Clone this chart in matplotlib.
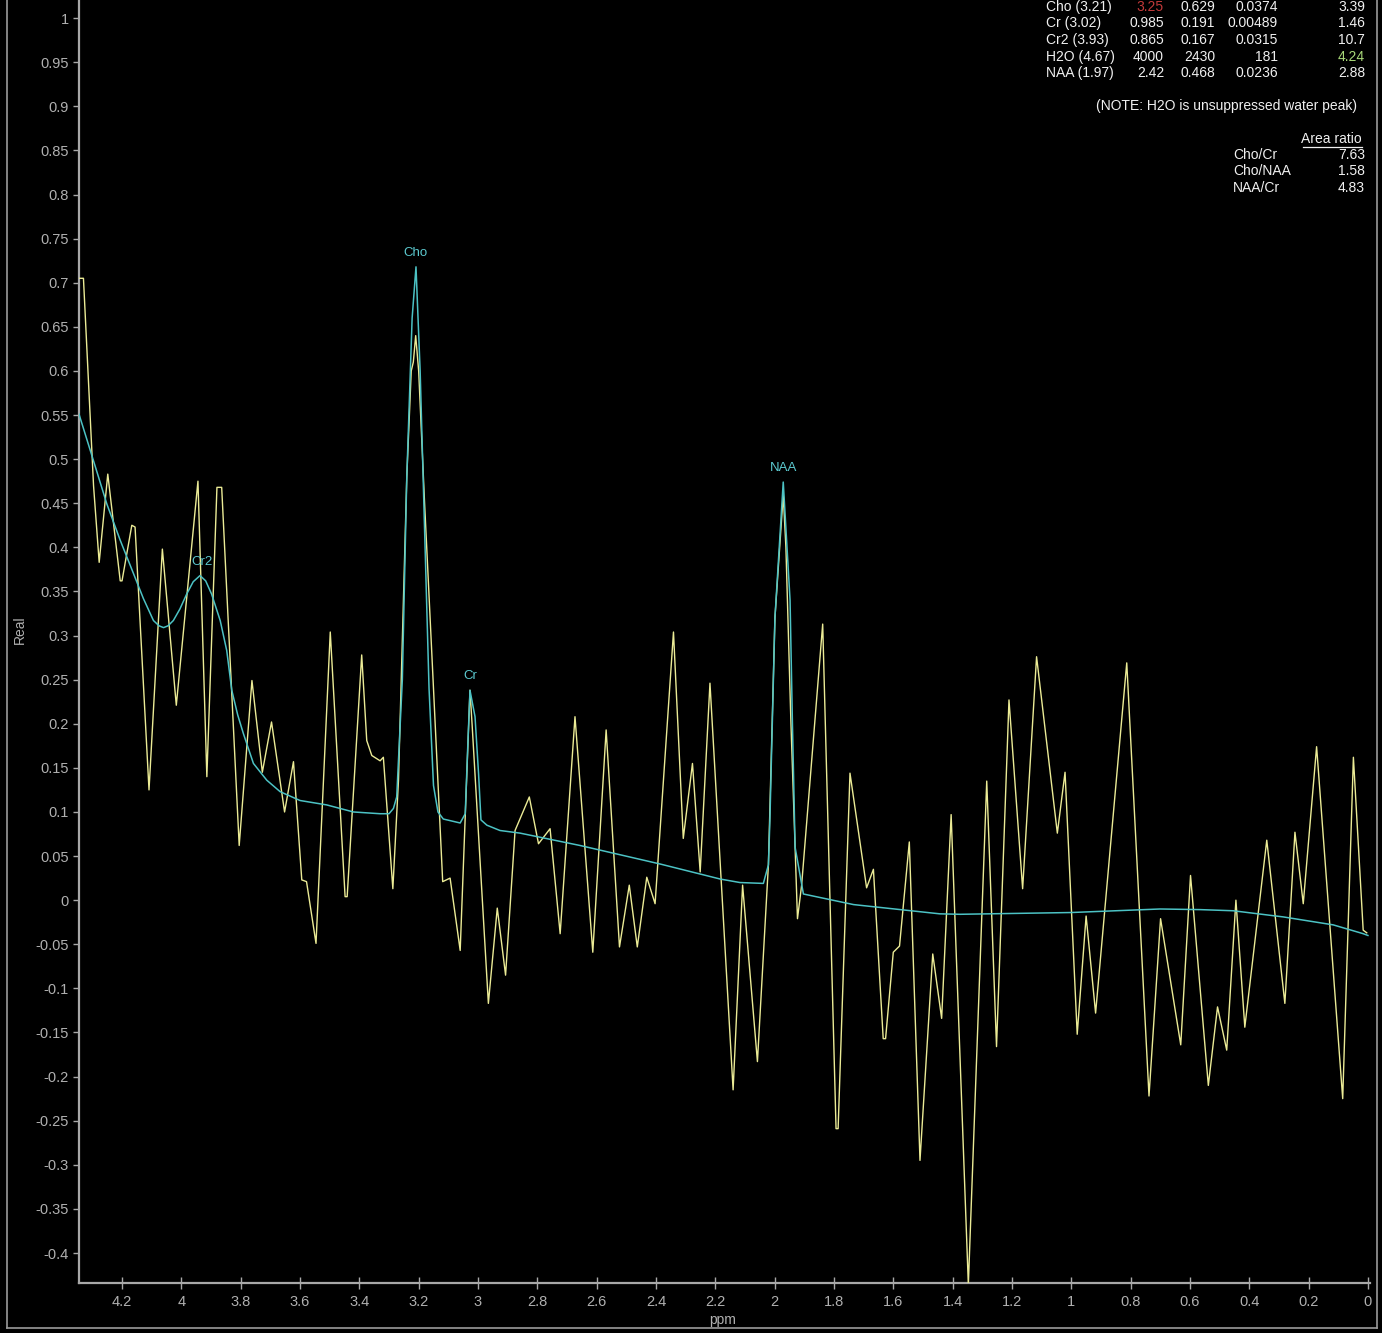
import matplotlib
matplotlib.use("Agg")
import matplotlib.pyplot as plt
from matplotlib.lines import Line2D
import numpy as np

W, H = 1382, 1333
BG = "black"
YELLOW = "#ebeb96"
CYAN = "#4cc2c4"
LABEL_CYAN = "#5ccad0"
GRAY = "#b0b0b0"
SPINE = "#a8a8a8"
WHITE = "#f0f0f0"
NARROW = ["Liberation Sans Narrow", "Liberation Sans", "DejaVu Sans"]

# measured spectrum (real part), ppm descending
spec_ppm = [4.345, 4.330, 4.296, 4.277, 4.248, 4.206, 4.200, 4.167, 4.156, 4.109,
            4.064, 4.017, 3.944, 3.914, 3.880, 3.864, 3.805, 3.762, 3.727, 3.696,
            3.652, 3.622, 3.594, 3.578, 3.546, 3.498, 3.448, 3.441, 3.392, 3.375,
            3.358, 3.330, 3.319, 3.287, 3.268, 3.240, 3.225, 3.218, 3.210, 3.200,
            3.180, 3.150, 3.119, 3.094, 3.060, 3.027, 3.020, 2.965, 2.935, 2.907,
            2.875, 2.827, 2.796, 2.757, 2.723, 2.673, 2.613, 2.568, 2.523, 2.490,
            2.463, 2.431, 2.403, 2.341, 2.308, 2.277, 2.251, 2.218, 2.140, 2.108,
            2.058, 2.021, 1.999, 1.971, 1.962, 1.945, 1.923, 1.909, 1.838, 1.793,
            1.786, 1.746, 1.690, 1.667, 1.634, 1.626, 1.600, 1.579, 1.546, 1.510,
            1.467, 1.437, 1.405, 1.347, 1.285, 1.252, 1.210, 1.164, 1.117, 1.047,
            1.021, 0.980, 0.950, 0.918, 0.813, 0.738, 0.699, 0.631, 0.598, 0.538,
            0.507, 0.476, 0.445, 0.415, 0.341, 0.280, 0.246, 0.218, 0.173, 0.085,
            0.049, 0.016, 0.004]
spec_val = [0.705, 0.705, 0.470, 0.383, 0.483, 0.362, 0.362, 0.425, 0.423, 0.125,
            0.398, 0.221, 0.475, 0.140, 0.468, 0.468, 0.062, 0.249, 0.145, 0.202,
            0.100, 0.157, 0.023, 0.021, -0.049, 0.304, 0.004, 0.004, 0.278, 0.181,
            0.164, 0.158, 0.162, 0.013, 0.136, 0.480, 0.600, 0.610, 0.640, 0.600,
            0.450, 0.240, 0.021, 0.025, -0.057, 0.238, 0.200, -0.117, -0.009, -0.085,
            0.079, 0.117, 0.064, 0.081, -0.038, 0.208, -0.059, 0.193, -0.053, 0.017,
            -0.053, 0.026, -0.004, 0.304, 0.070, 0.155, 0.032, 0.246, -0.215, 0.017,
            -0.183, 0.040, 0.320, 0.460, 0.400, 0.200, -0.021, 0.017, 0.313, -0.259,
            -0.259, 0.144, 0.014, 0.035, -0.157, -0.157, -0.059, -0.052, 0.066, -0.295,
            -0.061, -0.134, 0.097, -0.436, 0.135, -0.166, 0.227, 0.013, 0.276, 0.076,
            0.145, -0.152, -0.018, -0.128, 0.269, -0.222, -0.021, -0.164, 0.028, -0.210,
            -0.121, -0.170, 0.000, -0.144, 0.068, -0.117, 0.077, -0.004, 0.174, -0.225,
            0.162, -0.034, -0.037]

# fitted curve
fit_ppm = [4.345, 4.296, 4.251, 4.206, 4.161, 4.128, 4.094, 4.075, 4.060, 4.045,
           4.027, 4.005, 3.982, 3.960, 3.937, 3.918, 3.898, 3.869, 3.847, 3.830,
           3.810, 3.791, 3.757, 3.712, 3.667, 3.600, 3.510, 3.420, 3.330, 3.300,
           3.285, 3.274, 3.255, 3.240, 3.222, 3.209, 3.195, 3.180, 3.165, 3.150,
           3.135, 3.117, 3.060, 3.043, 3.035, 3.027, 3.010, 2.998, 2.990, 2.970,
           2.926, 2.858, 2.656, 2.386, 2.184, 2.117, 2.038, 2.021, 2.016, 1.999,
           1.971, 1.948, 1.940, 1.931, 1.903, 1.734, 1.443, 1.375, 1.000, 0.701,
           0.566, 0.454, 0.285, 0.117, 0.016, 0.000]
fit_val = [0.551, 0.498, 0.449, 0.408, 0.370, 0.342, 0.317, 0.311, 0.309, 0.311,
           0.317, 0.330, 0.347, 0.361, 0.368, 0.362, 0.347, 0.317, 0.283, 0.238,
           0.210, 0.189, 0.155, 0.136, 0.123, 0.113, 0.108, 0.100, 0.098, 0.098,
           0.104, 0.117, 0.250, 0.480, 0.660, 0.718, 0.600, 0.420, 0.240, 0.130,
           0.100, 0.092, 0.0875, 0.098, 0.170, 0.238, 0.208, 0.143, 0.091, 0.085,
           0.079, 0.076, 0.062, 0.041, 0.024, 0.020, 0.019, 0.040, 0.090, 0.320,
           0.474, 0.340, 0.200, 0.060, 0.007, -0.005, -0.0155, -0.016, -0.014, -0.010,
           -0.0107, -0.012, -0.019, -0.028, -0.038, -0.040]

peak_names = ["Cho", "Cr", "Cr2", "NAA"]
peak_ppm = [3.21, 3.025, 3.93, 1.97]

# results table
tbl_names = ["Cho (3.21)", "Cr (3.02)", "Cr2 (3.93)", "H2O (4.67)", "NAA (1.97)"]
tbl_col1 = ["3.25", "0.985", "0.865", "4000", "2.42"]
tbl_col2 = ["0.629", "0.191", "0.167", "2430", "0.468"]
tbl_col3 = ["0.0374", "0.00489", "0.0315", "181", "0.0236"]
tbl_col4 = ["3.39", "1.46", "10.7", "4.24", "2.88"]
ratio_names = ["Cho/Cr", "Cho/NAA", "NAA/Cr"]
ratio_vals = ["7.63", "1.58", "4.83"]
note = "(NOTE: H2O is unsuppressed water peak)"

x_ticks = [4.2, 4.0, 3.8, 3.6, 3.4, 3.2, 3.0, 2.8, 2.6, 2.4, 2.2, 2.0,
           1.8, 1.6, 1.4, 1.2, 1.0, 0.8, 0.6, 0.4, 0.2, 0.0]
y_ticks = np.round(np.arange(-0.4, 1.001, 0.05), 2)


def px(x, y):
    return x / W, 1 - y / H


def fmt(v, pos=None):
    return "%g" % (round(v, 2) + 0.0)


fig = plt.figure(figsize=(W / 100, H / 100), dpi=100, facecolor=BG)
ax = fig.add_axes([79 / W, 50 / H, (1370 - 79) / W, 1283 / H], facecolor=BG)

ax.plot(spec_ppm, spec_val, color=YELLOW, lw=1.0, zorder=3)
ax.plot(fit_ppm, fit_val, color=CYAN, lw=1.1, zorder=4)

fp = np.array(fit_ppm)
fv = np.array(fit_val)
for name, p in zip(peak_names, peak_ppm):
    m = np.abs(fp - p) < 0.02
    ax.annotate(name, (p, fv[m].max()), xytext=(0, 10), textcoords="offset points",
                ha="center", va="center", color=LABEL_CYAN, fontsize=9.5,
                family=NARROW, zorder=5)

ax.set_xlim(4.345, -0.007)
ax.set_ylim(-0.434, 1.0205)
ax.set_xticks(x_ticks)
ax.set_yticks(y_ticks)
ax.xaxis.set_major_formatter(plt.FuncFormatter(fmt))
ax.yaxis.set_major_formatter(plt.FuncFormatter(fmt))
for s in ["top", "right"]:
    ax.spines[s].set_visible(False)
for s in ["left", "bottom"]:
    ax.spines[s].set_color(SPINE)
    ax.spines[s].set_linewidth(1.6)
ax.tick_params(axis="x", direction="inout", length=9, width=1, color=SPINE,
               labelcolor=GRAY, labelsize=10.5, pad=4)
ax.tick_params(axis="y", direction="out", length=4.5, width=1, color=SPINE,
               labelcolor=GRAY, labelsize=10.5, pad=3)
for lab in ax.get_xticklabels() + ax.get_yticklabels():
    lab.set_family(NARROW)

fig.text(*px(20, 630), "Real", rotation=90, ha="center", va="center",
         color=GRAY, fontsize=10, family=NARROW)
fig.text(*px(723, 1320), "ppm", ha="center", va="center",
         color=GRAY, fontsize=10, family=NARROW)

# table text
row_y = [7, 23, 40, 57, 73]
tkw = dict(va="center", fontsize=10, family=NARROW)
for i, y in enumerate(row_y):
    fig.text(*px(1046, y), tbl_names[i], ha="left", color=WHITE, **tkw)
    c1 = "#c23a3a" if i == 0 else WHITE
    fig.text(*px(1164, y), tbl_col1[i], ha="right", color=c1, **tkw)
    fig.text(*px(1215, y), tbl_col2[i], ha="right", color=WHITE, **tkw)
    fig.text(*px(1278, y), tbl_col3[i], ha="right", color=WHITE, **tkw)
    c4 = "#a8d878" if i == 3 else WHITE
    fig.text(*px(1365, y), tbl_col4[i], ha="right", color=c4, **tkw)
fig.text(*px(1357, 106), note, ha="right", color=WHITE, **tkw)
fig.text(*px(1362, 139), "Area ratio", ha="right", color=WHITE, **tkw)
fig.add_artist(Line2D([1303 / W, 1362 / W], [1 - 147 / H, 1 - 147 / H],
                      color=WHITE, lw=0.9, transform=fig.transFigure))
for i, y in enumerate([155, 171, 188]):
    fig.text(*px(1233, y), ratio_names[i], ha="left", color=WHITE, **tkw)
    fig.text(*px(1365, y), ratio_vals[i], ha="right", color=WHITE, **tkw)

# outer frame
for xs, ys in [([7, 7], [0, 1328]), ([7, 1377], [1328, 1328]), ([1377, 1377], [0, 1328])]:
    fig.add_artist(Line2D([x / W for x in xs], [1 - y / H for y in ys],
                          color="#9a9a9a", lw=1.2, transform=fig.transFigure))

fig.savefig("out.png", dpi=100, facecolor=BG)
